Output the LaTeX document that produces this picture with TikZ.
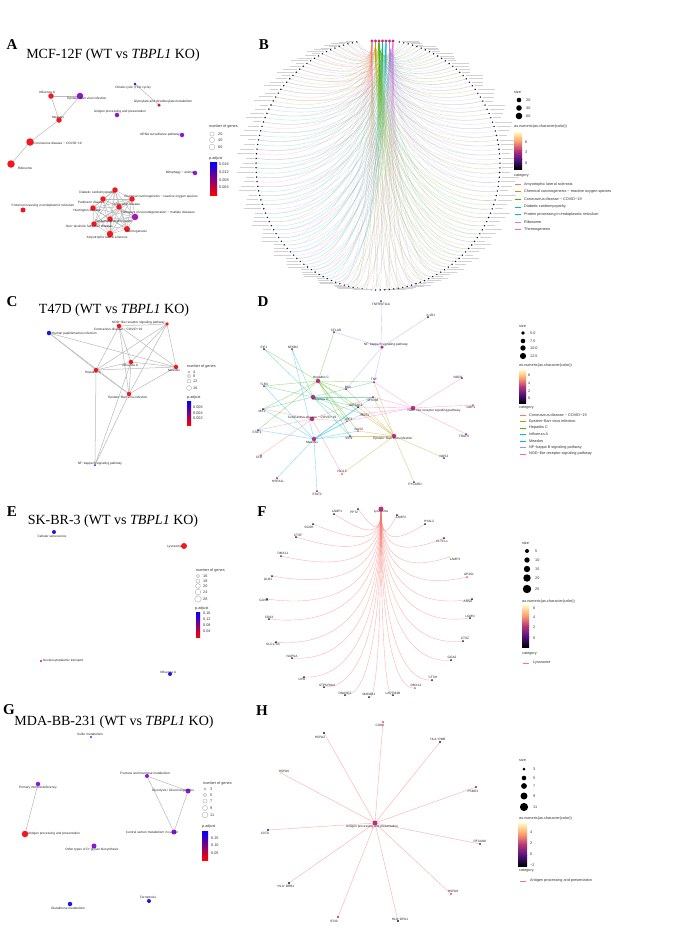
\documentclass[tikz,border=0pt]{standalone}
\usepackage{fontspec}
\setmainfont{Liberation Serif}
\newfontfamily\hv{Liberation Sans}
\usetikzlibrary{calc}
\newcommand\labf{\hv\fontsize{3.2}{3.6}\selectfont}
\newcommand\legf{\hv\fontsize{3.8}{4.2}\selectfont}
\newcommand\ttlf{\fontsize{14}{16}\selectfont}
\newcommand\letf{\bfseries\fontsize{15}{17}\selectfont}
\definecolor{c1}{HTML}{F8766D}
\definecolor{c2}{HTML}{C49A00}
\definecolor{c3}{HTML}{53B400}
\definecolor{c4}{HTML}{00C094}
\definecolor{c5}{HTML}{00B6EB}
\definecolor{c6}{HTML}{A58AFF}
\definecolor{c7}{HTML}{FB61D7}
\definecolor{nred}{HTML}{F4161E}
\definecolor{nblu}{HTML}{1A14E8}
\definecolor{npur}{HTML}{8E16D6}
\definecolor{ncrm}{HTML}{D0184E}
\definecolor{nmag}{HTML}{A817B6}
\definecolor{mgn}{HTML}{B8307E}
\definecolor{gk}{HTML}{1E0F45}
\definecolor{gpu}{HTML}{6A1C8E}
\definecolor{gpk}{HTML}{E8507A}
\definecolor{gye}{HTML}{F2E27A}
\definecolor{mgA}{HTML}{FCFDBF}
\definecolor{mgB}{HTML}{FE9F6D}
\definecolor{mgC}{HTML}{B73779}
\definecolor{mgD}{HTML}{51127C}
\definecolor{mgE}{HTML}{000004}
\definecolor{pmid}{HTML}{8A10A8}
\pgfdeclarelayer{back}
\pgfdeclarelayer{bg}
\pgfsetlayers{back,bg,main}
\newcommand\magbar[4]{%
  \pgfmathsetmacro\mqa{#2+(#4-#2)/4}%
  \pgfmathsetmacro\mqb{#2+(#4-#2)/2}%
  \pgfmathsetmacro\mqc{#2+3*(#4-#2)/4}%
  \shade[top color=mgA,bottom color=mgB] (#1,#2) rectangle (#3,\mqa);
  \shade[top color=mgB,bottom color=mgC] (#1,\mqa) rectangle (#3,\mqb);
  \shade[top color=mgC,bottom color=mgD] (#1,\mqb) rectangle (#3,\mqc);
  \shade[top color=mgD,bottom color=mgE] (#1,\mqc) rectangle (#3,#4);}
\newcommand\padjbar[4]{\shade[top color=blue,middle color=pmid,bottom color=red] (#1,#2) rectangle (#3,#4);}
\begin{document}
\begin{tikzpicture}[x=1pt,y=-1pt,
  nd/.style={circle,fill=#1,inner sep=0pt,outer sep=0pt},
  lab/.style={font=\labf,inner sep=0pt,text=black!85},
  leg/.style={font=\legf,inner sep=0pt,anchor=west,text=black!80},
  ttl/.style={font=\ttlf,inner sep=0pt},
  plet/.style={font=\letf,inner sep=0pt},
  ae/.style={draw=gray!55,line width=0.5pt},
  lc/.style={circle,draw=gray!75,fill=white,line width=0.3pt,inner sep=0pt},
  bk/.style={circle,fill=black,inner sep=0pt}]
\begin{pgfonlayer}{back}
\fill[white] (0,0) rectangle (685,930);
\end{pgfonlayer}
\useasboundingbox (0,0) rectangle (685,930);

% ================= Panel A =================
\node[plet] (letA) at (12,45) {A};
\node[ttl] (ttlA) at (113,55) {MCF-12F (WT vs \textit{TBPL1} KO)};
\node[nd=nred,minimum size=5.5pt] (aflu) at (51,96) {};
\node[nd=npur,minimum size=6.5pt] (aebv) at (80,96) {};
\node[nd=nred,minimum size=5.5pt] (ames) at (59,120) {};
\node[nd=nred,minimum size=7.5pt] (acov) at (30,142) {};
\node[nd=nred,minimum size=7.5pt] (arib) at (11,164) {};
\node[nd=nblu,minimum size=2.8pt] (atca) at (135,84) {};
\node[nd=ncrm,minimum size=3.5pt] (agly) at (159,105) {};
\node[nd=npur,minimum size=4.5pt] (aant) at (117,115) {};
\node[nd=npur,minimum size=4.5pt] (amrna) at (182,135) {};
\node[nd=npur,minimum size=4.5pt] (amit) at (195,173) {};
\node[nd=nred,minimum size=5pt] (aprot) at (23,210) {};
\node[nd=nred,minimum size=5.5pt] (adia) at (115,190) {};
\node[nd=nred,minimum size=5.5pt] (achem) at (132,199) {};
\node[nd=nred,minimum size=5.5pt] (apark) at (103,199) {};
\node[nd=nred,minimum size=5.5pt] (aalz) at (119,207) {};
\node[nd=nred,minimum size=5.5pt] (ahunt) at (93,208) {};
\node[nd=nmag,minimum size=6.5pt] (aneur) at (135,217) {};
\node[nd=nred,minimum size=5.5pt] (aoxp) at (110,219) {};
\node[nd=nred,minimum size=5.5pt] (anafl) at (94,224) {};
\node[nd=nred,minimum size=6pt] (athermo) at (127,229) {};
\node[nd=nred,minimum size=6.5pt] (aals) at (110,234) {};
\node[lab] (laflu) at (47,92) {Influenza A};
\node[lab] (laebv) at (87,99) {Epstein−Barr virus infection};
\node[lab] (lames) at (58,117) {Measles};
\node[lab,anchor=west] (lacov) at (33,143) {Coronavirus disease − COVID−19};
\node[lab] (larib) at (25,168) {Ribosome};
\node[lab] (latca) at (133,88) {Citrate cycle (TCA cycle)};
\node[lab] (lagly) at (163,102) {Glyoxylate and dicarboxylate metabolism};
\node[lab] (laant) at (120,112) {Antigen processing and presentation};
\node[lab,anchor=east] (lamrna) at (180,135) {mRNA surveillance pathway};
\node[lab,anchor=east] (lamit) at (194,173) {Mitophagy − animal};
\node[lab] (laprot) at (43,206) {Protein processing in endoplasmic reticulum};
\node[lab] (ladia) at (97,193) {Diabetic cardiomyopathy};
\node[lab] (lachem) at (161,197) {Chemical carcinogenesis − reactive oxygen species};
\node[lab] (lapark) at (91,202) {Parkinson disease};
\node[lab] (laalz) at (127,204) {Alzheimer disease};
\node[lab] (lahunt) at (87,211) {Huntington disease};
\node[lab] (laneur) at (158,213) {Pathways of neurodegeneration − multiple diseases};
\node[lab] (laoxp) at (114,222) {Oxidative phosphorylation};
\node[lab] (lanafl) at (89,227) {Non−alcoholic fatty liver disease};
\node[lab] (lathermo) at (136,232) {Thermogenesis};
\node[lab] (laals) at (107,238) {Amyotrophic lateral sclerosis};
\begin{pgfonlayer}{bg}
\draw[ae] (aflu) -- (aebv);
\draw[ae] (aflu) -- (ames);
\draw[ae] (aebv) -- (ames);
\draw[ae] (ames) -- (acov);
\draw[ae] (acov) -- (arib);
\draw[ae] (atca) -- (agly);
\foreach \a [count=\i] in {adia,achem,apark,aalz,ahunt,aneur,aoxp,anafl,athermo,aals}{
  \foreach \b [count=\j] in {adia,achem,apark,aalz,ahunt,aneur,aoxp,anafl,athermo,aals}{
    \ifnum\j>\i \draw[ae,line width=0.45pt] (\a) -- (\b); \fi}}
\end{pgfonlayer}
% legend A
\node[leg] (lgAt) at (209,127) {number of genes};
\node[lc,minimum size=4.2pt] (lgA1) at (212,134) {};
\node[lc,minimum size=5pt] (lgA2) at (212,140) {};
\node[lc,minimum size=5.8pt] (lgA3) at (212,147) {};
\node[leg] (lgA1t) at (218,134) {20};
\node[leg] (lgA2t) at (218,140) {40};
\node[leg] (lgA3t) at (218,147) {60};
\node[leg] (lgApt) at (209,159) {p.adjust};
\padjbar{210}{162}{217}{195}
\node[leg] (lgAp1) at (219,164) {0.016};
\node[leg] (lgAp2) at (219,172) {0.012};
\node[leg] (lgAp3) at (219,180) {0.008};
\node[leg] (lgAp4) at (219,187) {0.004};

% ================= Panel B =================
\node[plet] (letB) at (264,45) {B};
\foreach \i in {1,...,7}{\node[nd=mgn,minimum size=3.2pt] (bc\i) at ({368.5+3.5*\i},41) {};}
\begin{pgfonlayer}{bg}
\foreach \kk in {0,...,159}{
  \pgfmathsetmacro\tht{100+\kk*2.138}
  \pgfmathsetmacro\gx{378+122*cos(\tht)}
  \pgfmathsetmacro\gy{165-125*sin(\tht)}
  \pgfmathtruncatemacro\rr{min(6,floor((\tht-100)/50))}
  \pgfmathtruncatemacro\mm{mod(\kk,3)}
  \pgfmathtruncatemacro\cc{{1,7,2,4,5,1,5,4,6,7,3,1,3,2,3,6,3,6,6,3,3}[3*\rr+\mm]}
  \pgfmathtruncatemacro\cdd{mod(\cc+2,7)+1}
  \coordinate (bg\kk) at (\gx,\gy);
  \pgfmathsetmacro\cay{41+0.6*(\gy-41)+20}
  \pgfmathsetmacro\cby{\gy+15-15*(\gy-41)/250}
  \pgfmathsetmacro\tx{368.5+3.5*\cc}
  \pgfmathsetmacro\cbx{(\tx+\gx)/2}
  \draw[draw=c\cc,line width=0.3pt,opacity=0.35] (bc\cc) .. controls (\tx,\cay) and (\cbx,\cby) .. (bg\kk);
  \ifodd\kk\else
    \pgfmathsetmacro\ty{368.5+3.5*\cdd}
    \pgfmathsetmacro\cbx{(\ty+\gx)/2}
    \draw[draw=c\cdd,line width=0.3pt,opacity=0.3] (bc\cdd) .. controls (\ty,\cay) and (\cbx,\cby) .. (bg\kk);
  \fi
}
\end{pgfonlayer}
\foreach \kk in {0,...,159}{
  \pgfmathsetmacro\tht{100+\kk*2.138}
  \pgfmathsetmacro\csv{cos(\tht)}
  \pgfmathtruncatemacro\ww{8+3*mod(\kk,4)}
  \ifdim\csv pt<0pt
    \fill[gray!35] ($(bg\kk)+(-2.5,-0.5)$) rectangle ($(bg\kk)+(-2.5-\ww,0.5)$);
  \else
    \fill[gray!35] ($(bg\kk)+(2.5,-0.5)$) rectangle ($(bg\kk)+(2.5+\ww,0.5)$);
  \fi
  \node[nd=gk,minimum size=1.6pt] (bd\kk) at (bg\kk) {};
}
% legend B
\node[leg] (lgBs) at (514,92) {size};
\node[bk,minimum size=4.6pt] (lgBd1) at (519,100) {};
\node[bk,minimum size=5.6pt] (lgBd2) at (519,108) {};
\node[bk,minimum size=6.6pt] (lgBd3) at (519,116) {};
\node[leg] (lgBd1t) at (526,100) {20};
\node[leg] (lgBd2t) at (526,108) {40};
\node[leg] (lgBd3t) at (526,116) {60};
\node[leg] (lgBc) at (514,127) {as.numeric(as.character(color))};
\magbar{514}{132}{522}{169}
\node[leg] (lgBc1) at (525,142) {6};
\node[leg] (lgBc2) at (525,152) {3};
\node[leg] (lgBc3) at (525,163) {0};
\node[leg] (lgBk) at (514,176) {category};
\foreach \nm [count=\i] in {Amyotrophic lateral sclerosis,Chemical carcinogenesis − reactive oxygen species,Coronavirus disease − COVID−19,Diabetic cardiomyopathy,Protein processing in endoplasmic reticulum,Ribosome,Thermogenesis}{
  \pgfmathsetmacro\yy{176.5+7.6*\i}
  \coordinate (lgBa\i) at (515,\yy);
  \coordinate (lgBb\i) at (521,\yy);
  \draw[draw=c\i,line width=0.5pt] (lgBa\i) -- (lgBb\i);
  \node[leg] (lgBt\i) at (524,\yy) {\nm};
}

% ================= Panel C =================
\node[plet] (letC) at (12,302) {C};
\node[ttl] (ttlC) at (114,310) {T47D (WT vs \textit{TBPL1} KO)};
\node[nd=nblu,minimum size=4.5pt] (chpv) at (49,333) {};
\node[nd=nred,minimum size=4.5pt] (ccov) at (119,326) {};
\node[nd=nred,minimum size=3.8pt] (cnod) at (167,324) {};
\node[nd=nred,minimum size=4.5pt] (cflu) at (131,362) {};
\node[nd=nred,minimum size=4.5pt] (chep) at (96,370) {};
\node[nd=nred,minimum size=4.5pt] (cmea) at (176,367) {};
\node[nd=nred,minimum size=4.5pt] (cebv) at (129,394) {};
\node[nd=nblu,minimum size=2pt] (cnfk) at (95,465) {};
\node[lab,anchor=west] (lchpv) at (52,334) {Human papillomavirus infection};
\node[lab] (lccov) at (118,329.5) {Coronavirus disease − COVID−19};
\node[lab,anchor=east] (lcnod) at (165,323) {NOD−like receptor signaling pathway};
\node[lab] (lcflu) at (130,365) {Influenza A};
\node[lab] (lchep) at (93,373) {Hepatitis C};
\node[lab] (lcmea) at (174,370) {Measles};
\node[lab] (lcebv) at (128,397.5) {Epstein−Barr virus infection};
\node[lab] (lcnfk) at (100,464) {NF−kappa B signaling pathway};
\begin{pgfonlayer}{bg}
\foreach \a/\b in {chpv/chep,chpv/cebv,chpv/cmea,ccov/chep,ccov/cflu,ccov/cebv,ccov/cmea,ccov/cnod,cnod/chep,cnod/cflu,cnod/cmea,cnod/cebv,chep/cflu,chep/cmea,chep/cebv,chep/cnfk,cflu/cmea,cflu/cebv,cmea/cebv,cnfk/cebv,cnfk/cflu}
  \draw[ae] (\a) -- (\b);
\end{pgfonlayer}
\node[leg] (lgCt) at (187,367) {number of genes};
\node[lc,minimum size=2.4pt] (lgC1) at (189,372) {};
\node[lc,minimum size=3.2pt] (lgC2) at (189,376) {};
\node[lc,minimum size=4pt] (lgC3) at (189,381) {};
\node[lc,minimum size=5pt] (lgC4) at (189,388) {};
\node[leg] (lgC1t) at (193,372) {4};
\node[leg] (lgC2t) at (193,376) {8};
\node[leg] (lgC3t) at (193,381) {12};
\node[leg] (lgC4t) at (193,388) {16};
\node[leg] (lgCpt) at (187,398) {p.adjust};
\padjbar{187}{401}{191}{425}
\node[leg] (lgCp1) at (193,407) {0.006};
\node[leg] (lgCp2) at (193,413) {0.004};
\node[leg] (lgCp3) at (193,418) {0.002};

% ================= Panel D =================
\node[plet] (letD) at (263,302) {D};
\node[nd=mgn,minimum size=3.5pt] (dnfk) at (382,347) {};
\node[nd=mgn,minimum size=4.5pt] (dhep) at (318,381) {};
\node[nd=mgn,minimum size=4.5pt] (dflu) at (313,397) {};
\node[nd=mgn,minimum size=4.5pt] (dcov) at (312,419) {};
\node[nd=mgn,minimum size=4.5pt] (dmea) at (314,439) {};
\node[nd=mgn,minimum size=4.5pt] (dnod) at (413,408) {};
\node[nd=mgn,minimum size=4.5pt] (debv) at (394,436) {};
\node[lab] (ldnfk) at (386,345) {NF−kappa B signaling pathway};
\node[lab] (ldhep) at (321,378) {Hepatitis C};
\node[lab] (ldflu) at (320,399) {Influenza A};
\node[lab] (ldcov) at (312,417) {Coronavirus disease − COVID−19};
\node[lab] (ldmea) at (312,442) {Measles};
\node[lab] (ldnod) at (434,411) {NOD−like receptor signaling pathway};
\node[lab] (ldebv) at (393,438.5) {Epstein−Barr virus infection};
\foreach \i/\x/\y/\lx/\ly/\nm/\col in {
 1/381/301/381/304/TNFRSF11A/gpu, 2/428/317/431/315/IL1R1/gk, 3/334/332/336/330/CFLAR/gpu,
 4/264/349/264/347/EIF1/gk, 5/292/349/293/347/NFKB2/gpu, 6/264/386/264/384/TLR4/gpu,
 7/374/382/374/379.5/TNF/gpu, 8/346/389/348/387/BAX/gpu, 9/373/397/373/400/MYD88/gpu,
 10/462/378/458/377/NOD2/gpu, 11/473/405/471/407/GBP1/gpk, 12/466/434/464/436/TRAF6/gpu,
 13/263/409/262/411/MX1/gk, 14/258/430/257/432/STAT1/gpu, 15/261/455/259/457/CFB/gpk,
 16/358/407/356/405/EIF2AK2/gk, 17/362/414/365/415/OAS1/gpk, 18/347/421/349/419/IRF3/gpk,
 19/358/431/359/429/OAS2/gpk, 20/350/436/349/438.5/IRF9/gpu, 21/342/474/342/471/ISG15/gpk,
 22/277/478/278/481/HSPA1L/gpu, 23/317/491/317/494/STAT2/gpu, 24/444/458/444/456/NOS2/gpu,
 25/414/482/415/484.5/PYCARD/gpu}{
  \node[nd=\col,minimum size=2pt] (dg\i) at (\x,\y) {};
  \node[lab] (dgl\i) at (\lx,\ly) {\nm};
}
\begin{pgfonlayer}{bg}
\foreach \g/\ct/\cl in {1/dnfk/c6,2/dnfk/c6,3/dnfk/c6,3/dhep/c3,4/dhep/c3,4/dflu/c4,5/dflu/c4,5/dmea/c5,
 6/dhep/c3,6/dmea/c5,6/dflu/c4,7/dnfk/c6,7/dhep/c3,7/dflu/c4,7/debv/c2,7/dnod/c7,8/dhep/c3,8/debv/c2,8/dnfk/c6,
 9/dflu/c4,9/dmea/c5,9/dnod/c7,9/debv/c2,9/dcov/c1,10/dnod/c7,11/dnod/c7,12/dnod/c7,
 13/dhep/c3,13/dmea/c5,13/dflu/c4,13/dcov/c1,14/dmea/c5,14/dcov/c1,14/dhep/c3,15/dcov/c1,
 16/dflu/c4,16/dmea/c5,16/dhep/c3,16/debv/c2,16/dnod/c7,17/dhep/c3,17/dmea/c5,17/debv/c2,17/dnod/c7,17/dflu/c4,
 18/dcov/c1,18/dhep/c3,18/dflu/c4,18/dmea/c5,18/dnod/c7,19/dhep/c3,19/dmea/c5,19/debv/c2,
 20/dmea/c5,20/dhep/c3,20/dflu/c4,20/debv/c2,21/debv/c2,21/dcov/c1,22/dmea/c5,23/dmea/c5,24/debv/c2,25/debv/c2}
  \draw[draw=\cl,line width=0.4pt,opacity=0.5] (dg\g) -- (\ct);
\end{pgfonlayer}
\node[leg] (lgDs) at (519,326) {size};
\node[bk,minimum size=3.6pt] (lgDd1) at (523,333) {};
\node[bk,minimum size=4.6pt] (lgDd2) at (523,341) {};
\node[bk,minimum size=5.4pt] (lgDd3) at (523,348) {};
\node[bk,minimum size=6.2pt] (lgDd4) at (523,356) {};
\node[leg] (lgDd1t) at (530,333) {5.0};
\node[leg] (lgDd2t) at (530,341) {7.5};
\node[leg] (lgDd3t) at (530,348) {10.0};
\node[leg] (lgDd4t) at (530,356) {12.5};
\node[leg] (lgDc) at (519,366) {as.numeric(as.character(color))};
\magbar{519}{370}{526}{403}
\node[leg] (lgDc1) at (528,375) {6};
\node[leg] (lgDc2) at (528,383) {4};
\node[leg] (lgDc3) at (528,391) {2};
\node[leg] (lgDc4) at (528,398) {0};
\node[leg] (lgDk) at (519,408) {category};
\foreach \nm [count=\i] in {Coronavirus disease − COVID−19,Epstein−Barr virus infection,Hepatitis C,Influenza A,Measles,NF−kappa B signaling pathway,NOD−like receptor signaling pathway}{
  \pgfmathsetmacro\yy{408.5+6.5*\i}
  \coordinate (lgDa\i) at (520,\yy);
  \coordinate (lgDb\i) at (526,\yy);
  \draw[draw=c\i,line width=0.5pt] (lgDa\i) -- (lgDb\i);
  \node[leg] (lgDt\i) at (529,\yy) {\nm};
}

% ================= Panel E =================
\node[plet] (letE) at (12,512) {E};
\node[ttl] (ttlE) at (113,521) {SK-BR-3 (WT vs \textit{TBPL1} KO)};
\node[nd=nblu,minimum size=4pt] (ecel) at (54,532) {};
\node[nd=nred,minimum size=6pt] (elys) at (184,546) {};
\node[nd=ncrm,minimum size=2.4pt] (enuc) at (41,661) {};
\node[nd=nblu,minimum size=4pt] (eflu) at (170,674) {};
\node[lab] (lecel) at (52,536) {Cellular senescence};
\node[lab,anchor=east] (lelys) at (182,546.5) {Lysosome};
\node[lab,anchor=west] (lenuc) at (43,661) {Nucleocytoplasmic transport};
\node[lab] (leflu) at (168,672) {Influenza A};
\node[leg] (lgEt) at (196,571) {number of genes};
\node[lc,minimum size=3.2pt] (lgE1) at (198,576) {};
\node[lc,minimum size=4pt] (lgE2) at (198,581) {};
\node[lc,minimum size=4.8pt] (lgE3) at (198,586) {};
\node[lc,minimum size=5.6pt] (lgE4) at (198,592) {};
\node[lc,minimum size=6.4pt] (lgE5) at (198,599) {};
\node[leg] (lgE1t) at (203,576) {16};
\node[leg] (lgE2t) at (203,581) {18};
\node[leg] (lgE3t) at (203,586) {20};
\node[leg] (lgE4t) at (203,592) {24};
\node[leg] (lgE5t) at (203,599) {28};
\node[leg] (lgEpt) at (195,609) {p.adjust};
\padjbar{196}{612}{200}{637}
\node[leg] (lgEp1) at (203,613) {0.16};
\node[leg] (lgEp2) at (203,619) {0.12};
\node[leg] (lgEp3) at (203,625) {0.08};
\node[leg] (lgEp4) at (203,631) {0.04};

% ================= Panel F =================
\node[plet] (letF) at (262,512) {F};
\node[nd=mgn,minimum size=5pt] (flys) at (381,509) {};
\node[lab] (lflys) at (381,512) {Lysosome};
\foreach \i/\x/\y/\lx/\ly/\nm/\col in {
 1/334/514/337/511.5/LAMP1/gk, 2/358/509/354/512/PPT2/gk, 3/397/515/401/517.5/LAMP2/gk,
 4/313/524/309/527/SGSH/gk, 5/425/524/429/521.5/HYAL2/gk, 6/296/537/298/535/CTSF/gk,
 7/444/538/442/541/CLTCL1/gk, 8/281/556/283/553.5/DMXL1/gpu, 9/449/557/455/559.5/LAMP3/gye,
 10/467/577/469/574.5/AP4S1/gpk, 11/272/576/268/579/GLB1/gk, 12/472/599/468/601/ARSA/gk,
 13/267/599/264/600.5/GUSB/gk, 14/470/618/470/616.5/LGMN/gk, 15/269/619/269/617/CD63/gk,
 16/463/641/465/638.5/CTSZ/gk, 17/276/642/273/644.5/SLC17A5/gk, 18/451/660/452/657.5/GGA2/gk,
 19/292/658/292/656/NAPSA/gk, 20/432/680/433/677.5/CTSH/gk, 21/304/677/302/679.5/LIPA/gk,
 22/324/687/327/685.5/ATP6V0A4/gk, 23/415/688/416/685.5/DMXL2/gpk, 24/345/695/345/693/DNASE2/gk,
 25/369/697/369/694.5/MAN2B1/gk, 26/393/695/393/693/LAPTM4B/gk}{
  \node[nd=\col,minimum size=2pt] (fg\i) at (\x,\y) {};
  \node[lab] (fgl\i) at (\lx,\ly) {\nm};
  \pgfmathsetmacro\cay{509+0.6*(\y-509)+30}
  \pgfmathsetmacro\cby{\y+15-15*(\y-509)/190}
  \pgfmathsetmacro\cbx{(381+\x)/2}
  \begin{pgfonlayer}{bg}
  \draw[draw=c1,line width=0.4pt,opacity=0.55] (flys) .. controls (381,\cay) and (\cbx,\cby) .. (fg\i);
  \end{pgfonlayer}
}
\node[leg] (lgFs) at (522,543) {size};
\node[bk,minimum size=4pt] (lgFd1) at (527,551) {};
\node[bk,minimum size=5.4pt] (lgFd2) at (527,560) {};
\node[bk,minimum size=6.4pt] (lgFd3) at (527,569) {};
\node[bk,minimum size=7.4pt] (lgFd4) at (527,578) {};
\node[bk,minimum size=8.4pt] (lgFd5) at (527,589) {};
\node[leg] (lgFd1t) at (535,551) {5};
\node[leg] (lgFd2t) at (535,560) {10};
\node[leg] (lgFd3t) at (535,569) {15};
\node[leg] (lgFd4t) at (535,578) {20};
\node[leg] (lgFd5t) at (535,589) {25};
\node[leg] (lgFc) at (522,602) {as.numeric(as.character(color))};
\magbar{522}{605}{529}{647}
\node[leg] (lgFc1) at (533,608) {6};
\node[leg] (lgFc2) at (533,617) {4};
\node[leg] (lgFc3) at (533,627) {2};
\node[leg] (lgFc4) at (533,638) {0};
\node[leg] (lgFk) at (522,654) {category};
\coordinate (lgFa) at (523,663);
\coordinate (lgFb) at (529,663);
\draw[draw=c1,line width=0.5pt] (lgFa) -- (lgFb);
\node[leg] (lgFt) at (533,663) {Lysosome};

% ================= Panel G =================
\node[plet] (letG) at (9,710) {G};
\node[ttl] (ttlG) at (114,722) {MDA-BB-231 (WT vs \textit{TBPL1} KO)};
\node[nd=npur,minimum size=2.4pt] (gsul) at (91,737) {};
\node[nd=npur,minimum size=4pt] (gfru) at (147,776) {};
\node[nd=npur,minimum size=5pt] (ggly) at (188,791) {};
\node[nd=npur,minimum size=5pt] (gccm) at (174,832) {};
\node[nd=npur,minimum size=4.5pt] (gpri) at (38,784) {};
\node[nd=nred,minimum size=6.5pt] (gant) at (25,834) {};
\node[nd=npur,minimum size=5pt] (goth) at (94,846) {};
\node[nd=nblu,minimum size=4.5pt] (ggsh) at (70,904) {};
\node[nd=nblu,minimum size=4pt] (gfer) at (149,901) {};
\node[lab] (lgsul) at (90,734) {Sulfur metabolism};
\node[lab] (lgfru) at (145,773) {Fructose and mannose metabolism};
\node[lab] (lggly) at (173,791) {Glycolysis / Gluconeogenesis};
\node[lab] (lgccm) at (152,832) {Central carbon metabolism in cancer};
\node[lab] (lgpri) at (38,788) {Primary immunodeficiency};
\node[lab] (lgant) at (54,834) {Antigen processing and presentation};
\node[lab] (lgoth) at (92,850) {Other types of O−glycan biosynthesis};
\node[lab] (lggsh) at (68,908) {Glutathione metabolism};
\node[lab] (lgfer) at (148,898) {Ferroptosis};
\begin{pgfonlayer}{bg}
\draw[ae] (gfru) -- (ggly);
\draw[ae] (gfru) -- (gccm);
\draw[ae] (ggly) -- (gccm);
\draw[ae] (gpri) -- (gant);
\end{pgfonlayer}
\node[leg] (lgGt) at (203,784) {number of genes};
\node[lc,minimum size=2.4pt] (lgG1) at (205,789) {};
\node[lc,minimum size=3.4pt] (lgG2) at (205,795) {};
\node[lc,minimum size=4.2pt] (lgG3) at (205,801) {};
\node[lc,minimum size=5pt] (lgG4) at (205,808) {};
\node[lc,minimum size=5.8pt] (lgG5) at (205,815) {};
\node[leg] (lgG1t) at (210,789) {3};
\node[leg] (lgG2t) at (210,795) {5};
\node[leg] (lgG3t) at (210,801) {7};
\node[leg] (lgG4t) at (210,808) {9};
\node[leg] (lgG5t) at (210,815) {11};
\node[leg] (lgGpt) at (202,827) {p.adjust};
\padjbar{202}{831}{208}{860}
\node[leg] (lgGp1) at (211,838) {0.15};
\node[leg] (lgGp2) at (211,845) {0.10};
\node[leg] (lgGp3) at (211,853) {0.05};

% ================= Panel H =================
\node[plet] (letH) at (262,711) {H};
\node[nd=mgn,minimum size=5pt] (hc) at (375,823) {};
\node[lab] (lhc) at (372,826.5) {Antigen processing and presentation};
\foreach \i/\x/\y/\lx/\ly/\nm/\col in {
 1/383/722/380/725/CD8A/gpk, 2/324/733/320/737/HSPA2/gk, 3/440/742/438/739/HLA−DMB/gk,
 4/281/773/284/771/HSPA6/gye, 5/476/787/473/791/PSME1/gpu, 6/268/830/265/833/CIITA/gk,
 7/480/844/480/841/RFXANK/gpu, 8/289/883/286/886/HLA−DRB1/gk, 9/451/894/453/891/HSPA8/gpk,
 10/338/917/334/921/IFI30/nmag, 11/398/921/400/919/HLA−DPA1/gk}{
  \node[nd=\col,minimum size=2.2pt] (hg\i) at (\x,\y) {};
  \node[lab] (hgl\i) at (\lx,\ly) {\nm};
  \begin{pgfonlayer}{bg}
  \draw[draw=c1,line width=0.4pt,opacity=0.6] (hc) -- (hg\i);
  \end{pgfonlayer}
}
\node[leg] (lgHs) at (519,760) {size};
\node[bk,minimum size=3pt] (lgHd1) at (524,769) {};
\node[bk,minimum size=4.6pt] (lgHd2) at (524,778) {};
\node[bk,minimum size=5.8pt] (lgHd3) at (524,786) {};
\node[bk,minimum size=7pt] (lgHd4) at (524,796) {};
\node[bk,minimum size=8.2pt] (lgHd5) at (524,807) {};
\node[leg] (lgHd1t) at (533,769) {3};
\node[leg] (lgHd2t) at (533,778) {5};
\node[leg] (lgHd3t) at (533,786) {7};
\node[leg] (lgHd4t) at (533,796) {9};
\node[leg] (lgHd5t) at (533,807) {11};
\node[leg] (lgHc) at (519,819) {as.numeric(as.character(color))};
\magbar{518}{823}{527}{866}
\node[leg] (lgHc1) at (530,832) {4};
\node[leg] (lgHc2) at (530,843) {2};
\node[leg] (lgHc3) at (530,854) {0};
\node[leg] (lgHc4) at (530,865) {−2};
\node[leg] (lgHk) at (519,871) {category};
\coordinate (lgHa) at (520,881);
\coordinate (lgHb) at (526,881);
\draw[draw=c1,line width=0.5pt] (lgHa) -- (lgHb);
\node[leg] (lgHt) at (530,881) {Antigen processing and presentation};
\end{tikzpicture}
\end{document}
